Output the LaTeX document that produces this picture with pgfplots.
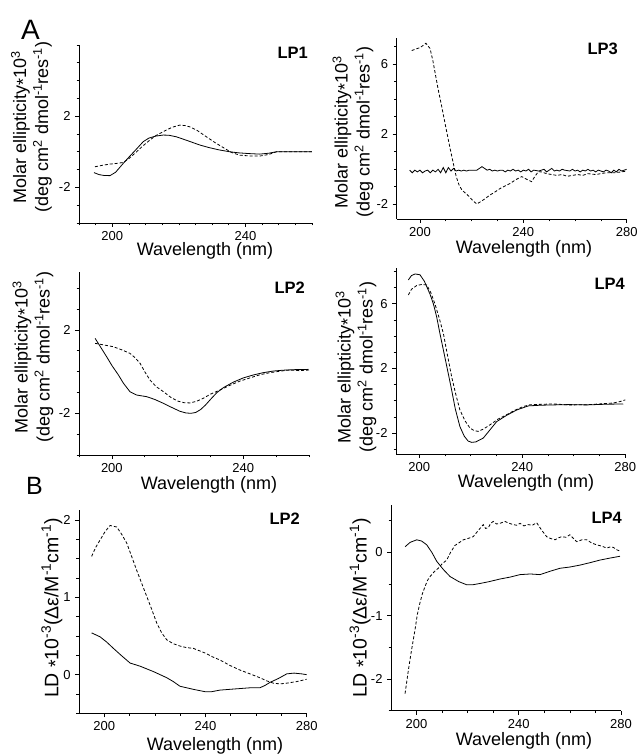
\documentclass[border=0pt]{standalone}
\usepackage{fontspec}
\setmainfont{Liberation Sans}
\usepackage{pgfplots}
\pgfplotsset{compat=1.18}

\pgfplotsset{
  cdax/.style={
    scale only axis,
    anchor=south west,
    axis x line*=bottom, axis y line*=left,
    axis line style={-, line width=0.8bp, black},
    xtick pos=left, ytick pos=left,
    tick align=outside,
    major tick length=4bp, minor tick length=2.5bp,
    every tick/.style={black, line width=0.7bp},
    tick label style={font=\fontsize{13bp}{15bp}\selectfont, black},
    /pgf/number format/assume math mode=true,
    xticklabel style={yshift=-1bp},
    yticklabel style={xshift=-1bp},
  },
  sol/.style={black, line width=0.8bp, no marks},
  das/.style={black, line width=0.8bp, dash pattern=on 3bp off 2bp, no marks},
}

\newcommand{\lab}{\fontsize{18bp}{22bp}\selectfont}
\newcommand{\panel}{\fontsize{16.5bp}{18bp}\selectfont\bfseries}
\newcommand{\myast}{\raisebox{-0.35ex}{*}}
\newcommand{\cdlabel}{Molar ellipticity\myast10\textsuperscript{3}\\(deg cm\textsuperscript{2} dmol\textsuperscript{-1}res\textsuperscript{-1})}
\newcommand{\ldlabel}{LD \myast10\textsuperscript{-3}(Δε/M\textsuperscript{-1}cm\textsuperscript{-1})}

\begin{document}
\begin{tikzpicture}
\useasboundingbox (0,0) rectangle (641bp,754bp);

% ---------- LP1 ----------
\begin{axis}[cdax, at={(79bp,531bp)}, width=233bp, height=178bp,
  xmin=190, xmax=260, ymin=-4, ymax=6,
  xtick={200,240}, minor xtick={190,195,...,260},
  ytick={-2,2}, minor ytick={-4,-3,...,6}]
\addplot[sol] coordinates {
(194.5,-1.17) (196,-1.28) (197.5,-1.33) (199.3,-1.34) (201,-1.15) (203.3,-0.65)
(205,-0.3) (207,0.1) (209.3,0.57) (211,0.77) (213,0.88) (215.3,0.94) (217,0.93)
(219.3,0.84) (221,0.73) (223,0.6) (226.3,0.38) (229,0.24) (232,0.11) (235.3,0.0)
(238,-0.06) (241,-0.1) (244.3,-0.13) (247,-0.08) (249.3,0.0) (252,0.0) (256,0.0) (260,0.0)};
\addplot[das] coordinates {
(194.8,-0.84) (197,-0.76) (199.3,-0.69) (201,-0.66) (203.3,-0.6) (205,-0.38)
(207.3,0.0) (209,0.3) (211.3,0.66) (213,0.9) (215.3,1.13) (218,1.38) (220.3,1.5)
(222,1.47) (223.3,1.4) (225.5,1.2) (228.3,0.84) (231,0.5) (234.3,0.13) (236,-0.05)
(238.3,-0.19) (241,-0.23) (244.3,-0.24) (247,-0.15) (249.3,0.0) (252,0.0) (256,0.0) (260,0.0)};
\end{axis}

% ---------- LP3 ----------
\begin{axis}[cdax, at={(396.7bp,535bp)}, width=230bp, height=181bp,
  xmin=191, xmax=280, ymin=-2.84, ymax=7.5,
  xtick={200,240,280}, minor xtick={200,210,...,280},
  ytick={-2,2,6}, minor ytick={-2,-1,...,7}]
\addplot[sol] coordinates {
(196,-0.05) (197,-0.2) (198,-0.05) (199,-0.15) (200,-0.05) (201,-0.2) (202,-0.1)
(203,-0.05) (204,-0.2) (205,-0.05) (206,-0.15) (207,0.0) (208,-0.2) (209,0.1)
(210,-0.2) (211,0.1) (212,-0.1) (213,0.05) (214,-0.1) (215,-0.05) (216,-0.1)
(217,-0.05) (218,-0.1) (219,-0.05) (220,-0.05) (222,-0.05) (223,0.05) (224,0.15)
(225,0.05) (226,-0.05) (227,0.0) (228,-0.1) (229,-0.05) (230,-0.1) (231,-0.05)
(232,-0.05) (233,-0.15) (234,-0.05) (235,-0.1) (236,0.0) (237,-0.1) (238,-0.05)
(239,-0.15) (240,-0.05) (241,-0.1) (242,0.0) (243,-0.15) (244,-0.05) (246,-0.1)
(248,0.0) (249,-0.15) (250,-0.05) (251,0.05) (252,-0.1) (253,-0.05) (254,-0.1)
(255,0.0) (256,-0.05) (258,-0.1) (259,0.0) (260,-0.1) (261,-0.05) (262,-0.15)
(263,-0.05) (264,-0.1) (265,0.0) (266,-0.1) (267,-0.05) (268,-0.15) (269,-0.05)
(270,-0.1) (271,-0.15) (272,-0.05) (273,-0.1) (274,-0.2) (275,-0.05) (276,-0.15)
(277,0.0) (278,-0.1) (279,-0.05) (280,0.0)};
\addplot[das] coordinates {
(196.8,6.78) (198,6.85) (200,6.95) (201,7.05) (202.3,7.2) (203.9,6.9) (205,6.2)
(206,5.4) (207,4.6) (208.4,3.6) (210,2.4) (211.5,1.3) (212.9,0.34) (214,-0.4)
(215,-0.85) (216.2,-1.18) (217.5,-1.35) (219,-1.55) (220.5,-1.8) (222,-1.98)
(223.5,-1.85) (225,-1.7) (227.1,-1.47) (229,-1.3) (231,-1.1) (233.6,-0.9)
(235,-0.8) (237,-0.6) (239.4,-0.42) (241,-0.55) (243.2,-0.71) (244.5,-0.4)
(245.8,-0.14) (247,-0.15) (249,-0.25) (251,-0.3) (253,-0.35) (255,-0.3) (257,-0.4)
(259,-0.35) (261,-0.3) (263,-0.35) (265,-0.25) (268,-0.3) (270,-0.25) (272,-0.2)
(275,-0.2) (278,-0.15) (280,-0.1)};
\end{axis}

% ---------- LP2 (CD) ----------
\begin{axis}[cdax, at={(79bp,299bp)}, width=230bp, height=183.3bp,
  xmin=190, xmax=260, ymin=-4, ymax=4.8,
  xtick={200,240}, minor xtick={190,200,...,260},
  ytick={-2,2}, minor ytick={-4,-3,...,4}]
\addplot[sol] coordinates {
(194.9,1.6) (196.5,1.2) (198.4,0.72) (200,0.3) (202,-0.16) (203.5,-0.55)
(205.5,-0.96) (207.5,-1.12) (210.6,-1.2) (213,-1.33) (215.7,-1.52) (218,-1.7)
(220.7,-1.9) (222.5,-1.98) (224,-2.0) (225.5,-1.96) (227,-1.82) (228.5,-1.6)
(230.2,-1.3) (232,-1.0) (234,-0.76) (237,-0.5) (240,-0.3) (243,-0.16) (246,-0.05)
(249.1,0.03) (252,0.07) (256,0.1) (259.8,0.11)};
\addplot[das] coordinates {
(194.9,1.36) (197,1.3) (200.4,1.2) (203,1.05) (205.5,0.88) (207,0.68) (208.6,0.4)
(210,0.0) (211.6,-0.4) (213.5,-0.72) (215.7,-0.96) (218,-1.24) (220.2,-1.42)
(222,-1.49) (223.8,-1.5) (225.8,-1.42) (227.8,-1.28) (230,-1.08) (232.9,-0.88)
(236,-0.65) (239,-0.45) (242,-0.3) (245,-0.15) (248,-0.05) (251,0.02) (254,0.08)
(257,0.05) (260,0.08)};
\end{axis}

% ---------- LP4 (CD) ----------
\begin{axis}[cdax, at={(396bp,300bp)}, width=229.3bp, height=185.7bp,
  xmin=191, xmax=280, ymin=-3.3, ymax=8.2,
  xtick={200,240,280}, minor xtick={200,210,...,280},
  ytick={-2,2,6}, minor ytick={-3,-2,...,8}]
\addplot[sol] coordinates {
(195.8,7.48) (197,7.75) (198.4,7.85) (200.3,7.8) (202,7.4) (204.2,6.6) (205.5,6.0)
(206.8,5.18) (208,4.2) (209.4,3.13) (211,1.9) (212.6,0.66) (214,-0.5) (215.8,-1.6)
(217.5,-2.2) (219,-2.5) (220.4,-2.58) (222,-2.55) (224.9,-2.31) (227.5,-1.8)
(230.1,-1.29) (234,-0.9) (237.9,-0.57) (242.4,-0.32) (247,-0.28) (252.1,-0.26)
(258,-0.24) (265,-0.26) (272,-0.22) (279.2,-0.2)};
\addplot[das] coordinates {
(195.8,6.55) (197,6.9) (199,7.13) (201,7.2) (202.9,7.17) (204.5,6.7) (206.1,6.0)
(207.8,5.1) (209.4,4.15) (211,2.8) (212.6,1.48) (214.2,0.4) (215.8,-0.57)
(217.8,-1.25) (219.7,-1.69) (221.3,-1.85) (222.9,-1.9) (225,-1.75) (227.5,-1.49)
(230.5,-1.15) (233.9,-0.87) (237,-0.6) (240.4,-0.36) (243,-0.25) (248,-0.22)
(252,-0.2) (258,-0.26) (265,-0.25) (270,-0.2) (275.4,-0.14) (278,-0.05) (280,0.05)};
\end{axis}

% ---------- B LP2 (LD) ----------
\begin{axis}[cdax, at={(79bp,40.7bp)}, width=227.7bp, height=203.3bp,
  xmin=190, xmax=280, ymin=-0.5, ymax=2.13,
  xtick={200,240,280}, minor xtick={200,210,...,280},
  ytick={0,1,2}, minor ytick={-0.5,-0.25,...,2}]
\addplot[sol] coordinates {
(195,0.54) (198.3,0.49) (201,0.42) (203.6,0.34) (207,0.24) (210.2,0.15) (214.1,0.11)
(219.4,0.04) (224.7,-0.04) (227.3,-0.09) (229.9,-0.15) (235.2,-0.19) (239.8,-0.22)
(242.5,-0.22) (245.7,-0.2) (249.6,-0.19) (253.6,-0.18) (257.6,-0.17) (261.5,-0.17)
(263.5,-0.14) (265.5,-0.1) (268.8,-0.05) (272.1,0.01) (275,0.02) (278,0.01) (280,0.0)};
\addplot[das] coordinates {
(195,1.53) (196.5,1.64) (198.3,1.74) (200.3,1.85) (202.3,1.93) (204.9,1.91)
(206.8,1.82) (208.9,1.7) (210.8,1.53) (212.8,1.35) (214.8,1.18) (216.8,1.01)
(218.8,0.84) (220.7,0.67) (222.7,0.54) (224.7,0.45) (227.3,0.4) (229.9,0.37)
(232.5,0.35) (235.2,0.34) (237.5,0.31) (239.8,0.28) (242.8,0.23) (245.7,0.19)
(249.6,0.12) (253.6,0.06) (257.6,0.01) (261.5,-0.04) (264.2,-0.08) (266.8,-0.11)
(269.5,-0.12) (272.1,-0.11) (276,-0.09) (280,-0.06)};
\end{axis}

% ---------- B LP4 (LD) ----------
\begin{axis}[cdax, at={(391bp,43.3bp)}, width=230bp, height=205.7bp,
  xmin=190, xmax=280, ymin=-2.5, ymax=0.75,
  xtick={200,240,280}, minor xtick={200,210,...,280},
  ytick={-2,-1,0}, minor ytick={-2.5,-2,...,0.5}]
\addplot[sol] coordinates {
(195.5,0.09) (197.5,0.16) (200.1,0.2) (202,0.18) (204,0.12) (206,0.0) (207.9,-0.14)
(210.5,-0.27) (213.1,-0.38) (216.5,-0.46) (219.6,-0.51) (222,-0.51) (224.8,-0.49)
(228.5,-0.46) (232.6,-0.42) (236.5,-0.39) (240.5,-0.35) (244.5,-0.34) (248.3,-0.35)
(252,-0.3) (256.1,-0.25) (260,-0.23) (263.9,-0.2) (268,-0.16) (271.8,-0.12)
(275.5,-0.09) (279.6,-0.06)};
\addplot[das] coordinates {
(195.5,-2.23) (196.8,-1.86) (198,-1.55) (199.4,-1.22) (200.3,-0.98) (201.3,-0.8)
(202.3,-0.65) (203.3,-0.54) (204.3,-0.44) (205.3,-0.38) (207,-0.3) (208.5,-0.25)
(210,-0.18) (211.8,-0.12) (213.3,0.0) (215,0.11) (216.5,0.15) (218.3,0.2) (220,0.22)
(222.2,0.25) (224,0.34) (226.1,0.44) (227,0.38) (228.1,0.39) (229,0.46) (230,0.49)
(231.3,0.45) (232.6,0.46) (234.6,0.49) (236.3,0.46) (237.9,0.44) (239.2,0.43)
(240.5,0.46) (242,0.42) (243.7,0.44) (245.3,0.43) (247,0.47) (249,0.35) (250.9,0.25)
(252.5,0.22) (254.2,0.2) (255.5,0.23) (256.8,0.25) (258.5,0.24) (260,0.28)
(261.4,0.22) (262.7,0.17) (264.7,0.2) (266.6,0.2) (268.5,0.15) (270.5,0.12)
(272.5,0.1) (274.4,0.07) (276,0.09) (277,0.08) (278.5,0.04) (279.6,0.02)};
\end{axis}

% ---------- texts ----------
\node[font=\fontsize{28bp}{30bp}\selectfont, anchor=north west, inner sep=0pt] at (21bp,734bp) {A};
\node[font=\fontsize{25bp}{27bp}\selectfont, anchor=north west, inner sep=0pt] at (26bp,277bp) {B};

\node[font=\panel, anchor=north east, inner sep=0pt] at (308bp,707bp) {LP1};
\node[font=\panel, anchor=north east, inner sep=0pt] at (618bp,711bp) {LP3};
\node[font=\panel, anchor=north east, inner sep=0pt] at (305bp,472bp) {LP2};
\node[font=\panel, anchor=north east, inner sep=0pt] at (625bp,476bp) {LP4};
\node[font=\panel, anchor=north east, inner sep=0pt] at (300bp,241bp) {LP2};
\node[font=\panel, anchor=north east, inner sep=0pt] at (622bp,242bp) {LP4};

\node[font=\lab, rotate=90, align=center, inner sep=0pt] at (31.5bp,627bp) {\cdlabel};
\node[font=\lab, rotate=90, align=center, inner sep=0pt] at (353bp,622bp) {\cdlabel};
\node[font=\lab, rotate=90, align=center, inner sep=0pt] at (33bp,397bp) {\cdlabel};
\node[font=\lab, rotate=90, align=center, inner sep=0pt] at (356bp,387bp) {\cdlabel};
\node[font=\fontsize{19.5bp}{22bp}\selectfont, rotate=90, inner sep=0pt] at (52bp,146bp) {\ldlabel};
\node[font=\fontsize{19.5bp}{22bp}\selectfont, rotate=90, inner sep=0pt] at (360bp,146bp) {\ldlabel};

\node[font=\lab, anchor=base, inner sep=0pt] at (205bp,498bp) {Wavelength (nm)};
\node[font=\lab, anchor=base, inner sep=0pt] at (524bp,500bp) {Wavelength (nm)};
\node[font=\lab, anchor=base, inner sep=0pt] at (209bp,264bp) {Wavelength (nm)};
\node[font=\lab, anchor=base, inner sep=0pt] at (526bp,266.5bp) {Wavelength (nm)};
\node[font=\lab, anchor=base, inner sep=0pt] at (215bp,4bp) {Wavelength (nm)};
\node[font=\lab, anchor=base, inner sep=0pt] at (524bp,9bp) {Wavelength (nm)};
\end{tikzpicture}
\end{document}
